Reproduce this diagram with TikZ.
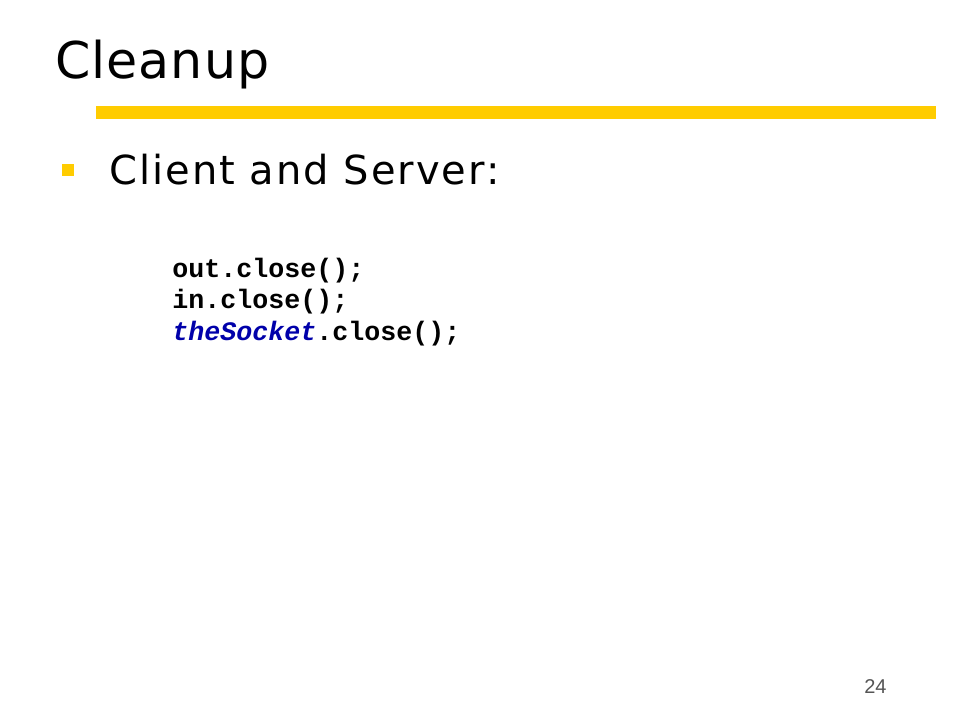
\documentclass[tikz,border=0pt]{standalone}
\usepackage{fontspec}
\setmainfont{DejaVu Sans}
\setmonofont{Liberation Mono}
\newfontfamily\numfont{Liberation Sans}
\definecolor{barYellow}{HTML}{FFCC00}
\definecolor{codeBlue}{RGB}{0,0,170}
\definecolor{numGray}{HTML}{555555}
\tikzset{
    txt/.style={anchor=base west, inner sep=0pt},
    code/.style={txt, font=\fontsize{20}{24}\selectfont\ttfamily\bfseries}
}
\begin{document}
\begin{tikzpicture}[x=0.75pt,y=-0.75pt]
    \useasboundingbox[fill=white] (0,0) rectangle (960,720);

    \node[txt, font=\fontsize{38}{44}\selectfont\addfontfeature{LetterSpace=2}] (title) at (55,79) {Cleanup};
    \fill[barYellow] (96,106) rectangle (936,119);

    \fill[barYellow] (62,164) rectangle (74,176);
    \node[txt, font=\fontsize{30}{34}\selectfont\addfontfeature{LetterSpace=5}] (item) at (109,185) {Client and Server:};

    \node[code] (outline) at (172,277) {out.close();};
    \node[code] (inline) at (172,308) {in.close();};
    \node[code] (sockline) at (172,340) {\textcolor{codeBlue}{\itshape theSocket}.close();};

    \node[txt, font=\fontsize{15}{18}\selectfont\numfont, text=numGray] (page) at (864,693) {24};
\end{tikzpicture}
\end{document}
